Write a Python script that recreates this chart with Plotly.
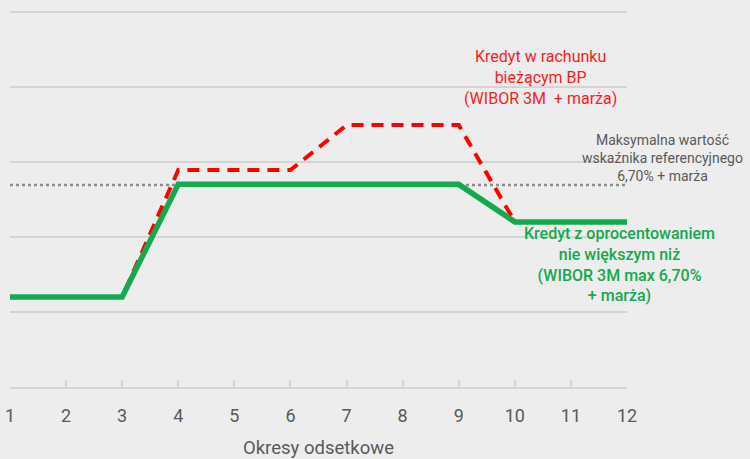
import plotly.graph_objects as go

periods = list(range(1, 13))
green_vals = [1.2, 1.2, 1.2, 2.7, 2.7, 2.7, 2.7, 2.7, 2.7, 2.2, 2.2, 2.2]
red_vals = [1.2, 1.2, 1.2, 2.89, 2.89, 2.89, 3.49, 3.49, 3.49, 2.2, 2.2, 2.2]
cap_val = 2.69
tick_labels = [str(p) for p in periods]
x_title = "Okresy odsetkowe"

FONT = "Roboto, Noto Sans, sans-serif"

fig = go.Figure()
fig.add_trace(go.Scatter(x=periods, y=[cap_val] * len(periods), mode="lines",
                         line=dict(color="#8c8c8c", width=2.5, dash="dot"),
                         hoverinfo="skip"))
fig.add_trace(go.Scatter(x=periods, y=red_vals, mode="lines",
                         line=dict(color="#ff0000", width=4, dash="12px,8px")))
fig.add_trace(go.Scatter(x=periods, y=green_vals, mode="lines",
                         line=dict(color="#13a94e", width=5.5)))

fig.add_annotation(x=10.46, y=4.12, xref="x", yref="y", showarrow=False,
                   text="Kredyt w rachunku<br>bieżącym BP<br>(WIBOR 3M  + marża)",
                   font=dict(color="#ff1a1a", size=16, family=FONT),
                   align="center", xanchor="center")
fig.add_annotation(x=1.058, y=3.05, xref="paper", yref="y", showarrow=False,
                   text="Maksymalna wartość<br>wskaźnika referencyjnego<br>6,70% + marża",
                   font=dict(color="#595959", size=14, family=FONT),
                   align="center", xanchor="center")
fig.add_annotation(x=11.86, y=1.63, xref="x", yref="y", showarrow=False,
                   text="Kredyt z oprocentowaniem<br>nie większym niż<br>(WIBOR 3M max 6,70%<br>+ marża)",
                   font=dict(color="#13a94e", size=16, family=FONT, weight=500),
                   align="center", xanchor="center")
fig.add_annotation(x=0.5, y=0, xref="paper", yref="paper", yshift=-61,
                   showarrow=False, text=x_title, xanchor="center", yanchor="middle",
                   font=dict(color="#595959", size=18.5, family=FONT))

fig.update_layout(
    width=750, height=459,
    margin=dict(l=10, r=123, t=8, b=72, autoexpand=False),
    paper_bgcolor="#ededed", plot_bgcolor="#ededed",
    showlegend=False,
    xaxis=dict(range=[1, 12], tickvals=periods, ticktext=tick_labels,
               showgrid=False, zeroline=False, showline=True, automargin=False,
               linecolor="#d4d4d4", linewidth=2,
               ticks="inside", ticklen=7, tickcolor="#d4d4d4", tickwidth=1.5,
               ticklabelstandoff=11,
               tickfont=dict(color="#595959", size=18, family=FONT)),
    yaxis=dict(range=[0, 5.05], tickvals=[1, 2, 3, 4, 5], showticklabels=False,
               automargin=False,
               showgrid=True, gridcolor="#d4d4d4", gridwidth=2, zeroline=False),
)

fig.write_html("out.html", config={"displayModeBar": False})

with open("out.html", "r", encoding="utf-8") as f:
    html = f.read()
html = html.replace("<head>", "<head><style>html,body{margin:0;padding:0;background:#ededed;}</style>", 1)
with open("out.html", "w", encoding="utf-8") as f:
    f.write(html)
